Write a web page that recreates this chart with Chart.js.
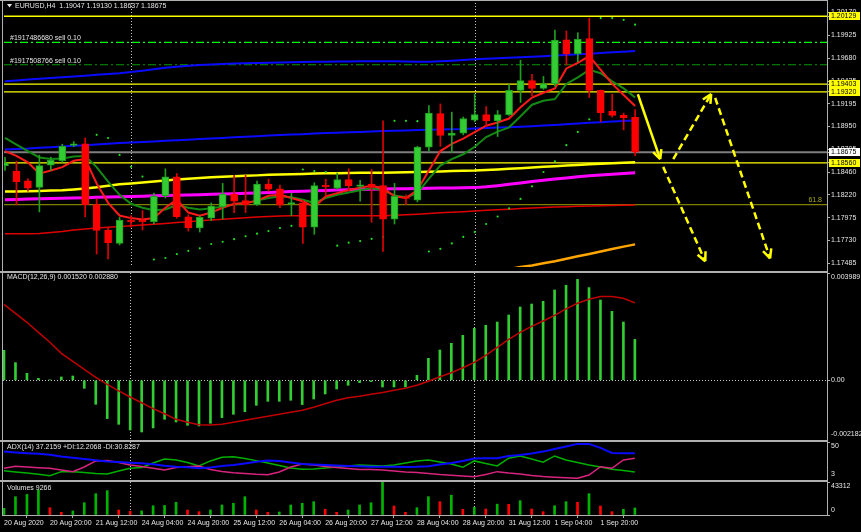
<!DOCTYPE html>
<html>
<head>
<meta charset="utf-8">
<script src="https://cdn.jsdelivr.net/npm/chart.js@4.4.0/dist/chart.umd.min.js"></script>
<style>
html, body { margin: 0; padding: 0; background: #000; }
#wrap { position: relative; width: 861px; height: 532px; background: #000; overflow: hidden; }
canvas { position: absolute; left: 0; }
.ln { position: absolute; background: #b0b0b0; }
</style>
</head>
<body>
<div id="wrap">
  <canvas id="main" width="861" height="271" style="top:0"></canvas>
  <canvas id="macd" width="861" height="166" style="top:273px"></canvas>
  <canvas id="adx" width="861" height="37" style="top:442px"></canvas>
  <canvas id="vol" width="861" height="50" style="top:482px"></canvas>
  <div class="ln" style="left:0;top:0;width:828px;height:1px"></div>
  <div class="ln" style="left:0;top:271px;width:828px;height:2px"></div>
  <div class="ln" style="left:0;top:440px;width:828px;height:2px"></div>
  <div class="ln" style="left:0;top:480px;width:828px;height:2px"></div>
  <div class="ln" style="left:2px;top:0;width:1px;height:516px"></div>
  <div class="ln" style="left:827px;top:0;width:1px;height:516px"></div>
</div>
<script>
// EURUSD H4, 20 Aug - 1 Sep 2020
const openP = [1.18530,1.18473,1.18369,1.18299,1.18536,1.18583,1.18747,1.18764,1.18115,1.17839,
  1.17699,1.17940,1.17940,1.17932,1.18209,1.18411,1.17984,1.17866,1.17970,1.18091,
  1.18227,1.18157,1.18115,1.18334,1.18282,1.18120,1.18133,1.17873,1.18320,1.18289,
  1.18383,1.18310,1.18334,1.18317,1.17959,1.18190,1.18161,1.18729,1.19087,1.18854,
  1.18879,1.19017,1.19076,1.19010,1.19076,1.19336,1.19440,1.19357,1.19405,1.19877,
  1.19727,1.19891,1.19336,1.19111,1.19069,1.19047];
const highP = [1.18620,1.18580,1.18393,1.18643,1.18622,1.18760,1.18788,1.18827,1.18175,1.17873,
  1.17977,1.17998,1.18050,1.18237,1.18497,1.18445,1.18005,1.17995,1.18133,1.18341,
  1.18427,1.18427,1.18365,1.18386,1.18323,1.18237,1.18157,1.18348,1.18386,1.18452,
  1.18497,1.18375,1.18490,1.19010,1.18341,1.18219,1.18739,1.19173,1.19191,1.19103,
  1.19051,1.19295,1.19163,1.19121,1.19399,1.19659,1.19509,1.19485,1.19981,1.19971,
  1.19953,1.20109,1.19340,1.19295,1.19093,1.19130];
const lowP = [1.18480,1.18112,1.18258,1.18036,1.18479,1.18567,1.18736,1.17984,1.17585,1.17533,
  1.17683,1.17873,1.17842,1.17907,1.18185,1.17970,1.17831,1.17821,1.17943,1.17959,
  1.18029,1.18029,1.18105,1.18255,1.18081,1.17995,1.17699,1.17797,1.18203,1.18279,
  1.18271,1.18151,1.17925,1.17613,1.17907,1.18115,1.18143,1.18687,1.18739,1.18671,
  1.18861,1.18999,1.18947,1.18843,1.19069,1.19207,1.19277,1.19347,1.19381,1.19607,
  1.19641,1.19259,1.18999,1.19051,1.18913,1.18637];
const closeP = [1.18560,1.18359,1.18289,1.18531,1.18588,1.18739,1.18764,1.18115,1.17839,1.17707,
  1.17949,1.17930,1.17930,1.18203,1.18411,1.17984,1.17866,1.17977,1.18099,1.18227,
  1.18151,1.18115,1.18334,1.18279,1.18109,1.18130,1.17873,1.18317,1.18305,1.18383,
  1.18317,1.18320,1.18299,1.17959,1.18203,1.18180,1.18729,1.19093,1.18854,1.18879,
  1.19035,1.19076,1.19010,1.19076,1.19336,1.19440,1.19357,1.19409,1.19873,1.19727,
  1.19883,1.19336,1.19097,1.19069,1.19045,1.18675];

const maFast = [1.18687,1.18635,1.18567,1.18445,1.18479,1.18515,1.18583,1.18601,1.18341,1.18133,
  1.17998,1.17970,1.17956,1.17970,1.18081,1.18167,1.18029,1.17995,1.18029,1.18081,
  1.18123,1.18130,1.18157,1.18209,1.18219,1.18185,1.18151,1.18088,1.18203,1.18237,
  1.18271,1.18296,1.18317,1.18289,1.18203,1.18185,1.18271,1.18479,1.18687,1.18764,
  1.18819,1.18889,1.18958,1.18993,1.19035,1.19155,1.19259,1.19311,1.19357,1.19571,
  1.19631,1.19703,1.19555,1.19405,1.19287,1.19170];
const maGreen = [1.18827,1.18757,1.18687,1.18619,1.18601,1.18608,1.18629,1.18635,1.18515,1.18359,
  1.18219,1.18123,1.18081,1.18053,1.18063,1.18109,1.18081,1.18063,1.18074,1.18095,
  1.18115,1.18133,1.18157,1.18185,1.18203,1.18192,1.18167,1.18133,1.18185,1.18219,
  1.18244,1.18268,1.18289,1.18268,1.18213,1.18192,1.18237,1.18393,1.18531,1.18601,
  1.18653,1.18733,1.18837,1.18895,1.18941,1.19059,1.19183,1.19225,1.19243,1.19405,
  1.19475,1.19555,1.19519,1.19433,1.19357,1.19259];
const maYellow = [1.18255,1.18255,1.18258,1.18261,1.18265,1.18268,1.18276,1.18286,1.18299,1.18315,
  1.18331,1.18341,1.18351,1.18362,1.18372,1.18383,1.18390,1.18398,1.18406,1.18411,
  1.18417,1.18422,1.18427,1.18433,1.18437,1.18440,1.18443,1.18446,1.18449,1.18451,
  1.18453,1.18455,1.18455,1.18455,1.18457,1.18461,1.18463,1.18466,1.18469,1.18473,
  1.18476,1.18479,1.18485,1.18491,1.18497,1.18504,1.18512,1.18518,1.18525,1.18532,
  1.18539,1.18545,1.18551,1.18557,1.18562,1.18567];
const maMagenta = [1.18167,1.18170,1.18174,1.18177,1.18180,1.18183,1.18186,1.18189,1.18192,1.18195,
  1.18199,1.18202,1.18205,1.18208,1.18211,1.18214,1.18217,1.18221,1.18226,1.18229,
  1.18231,1.18235,1.18239,1.18243,1.18248,1.18254,1.18258,1.18262,1.18266,1.18270,
  1.18273,1.18277,1.18279,1.18281,1.18283,1.18285,1.18287,1.18289,1.18291,1.18292,
  1.18294,1.18296,1.18305,1.18317,1.18331,1.18346,1.18362,1.18375,1.18388,1.18400,
  1.18412,1.18422,1.18431,1.18440,1.18448,1.18455];
const maRed = [1.17803,1.17803,1.17803,1.17805,1.17816,1.17826,1.17842,1.17854,1.17865,1.17873,
  1.17880,1.17888,1.17896,1.17904,1.17913,1.17922,1.17931,1.17941,1.17950,1.17958,
  1.17967,1.17974,1.17981,1.17987,1.17993,1.17996,1.17996,1.17996,1.17996,1.17996,
  1.17996,1.17996,1.17995,1.17995,1.18000,1.18005,1.18012,1.18019,1.18026,1.18033,
  1.18039,1.18047,1.18054,1.18060,1.18066,1.18073,1.18078,1.18083,1.18088,1.18092,
  1.18097,1.18100,1.18103,1.18105,1.18107,1.18109];
const bandMid = [1.18705,1.18710,1.18715,1.18723,1.18729,1.18736,1.18743,1.18750,1.18757,1.18764,
  1.18772,1.18778,1.18784,1.18790,1.18797,1.18803,1.18809,1.18815,1.18822,1.18828,
  1.18834,1.18840,1.18846,1.18853,1.18858,1.18863,1.18868,1.18874,1.18879,1.18884,
  1.18888,1.18892,1.18896,1.18901,1.18905,1.18908,1.18911,1.18914,1.18917,1.18920,
  1.18923,1.18929,1.18934,1.18938,1.18942,1.18947,1.18953,1.18960,1.18967,1.18975,
  1.18983,1.18990,1.18996,1.19002,1.19009,1.19015];
const bandUp = [1.19433,1.19443,1.19452,1.19460,1.19468,1.19477,1.19485,1.19493,1.19502,1.19510,
  1.19520,1.19533,1.19547,1.19562,1.19577,1.19589,1.19599,1.19608,1.19614,1.19619,
  1.19623,1.19626,1.19630,1.19632,1.19635,1.19637,1.19639,1.19641,1.19643,1.19645,
  1.19646,1.19647,1.19648,1.19648,1.19647,1.19645,1.19643,1.19643,1.19647,1.19653,
  1.19661,1.19668,1.19674,1.19680,1.19685,1.19690,1.19695,1.19701,1.19708,1.19715,
  1.19722,1.19729,1.19737,1.19744,1.19750,1.19756];
const maOrange = [null,null,null,null,null,null,null,null,null,null,
  null,null,null,null,null,null,null,null,null,null,
  null,null,null,null,null,null,null,null,null,null,
  null,null,null,null,null,null,null,null,null,null,
  null,null,null,null,1.17425,1.17447,1.17464,1.17488,1.17509,1.17535,
  1.17561,1.17587,1.17613,1.17639,1.17665,1.17689];
const sar = [null,null,null,null,null,null,null,null,1.18861,1.18827,
  1.18646,1.18518,1.18414,1.17527,1.17543,1.17585,1.17620,1.17647,1.17693,1.17717,
  1.17745,1.17776,1.17803,1.17831,1.17863,1.17887,1.18490,1.18473,1.18463,1.17675,
  1.17707,1.17724,1.17748,1.17769,1.19010,1.19010,1.19007,1.17613,1.17641,1.17699,
  1.17769,1.17821,1.17907,1.17987,1.18074,1.18175,1.18310,1.18463,1.18577,1.18750,
  1.18892,1.19027,1.20109,1.20109,1.20091,1.20039];

const macdHist = [0.001115,0.000658,0.000260,0.000074,0.000020,0.000124,0.000160,-0.000297,-0.000892,-0.001424,
  -0.001636,-0.001847,-0.001921,-0.001772,-0.001450,-0.001550,-0.001673,-0.001698,-0.001599,-0.001388,
  -0.001264,-0.001165,-0.000929,-0.000781,-0.000781,-0.000743,-0.000904,-0.000694,-0.000508,-0.000322,
  -0.000186,-0.000087,-0.000050,-0.000248,-0.000248,-0.000248,0.000186,0.000818,0.001126,0.001375,
  0.001673,0.001933,0.002045,0.002167,0.002428,0.002725,0.002836,0.002937,0.003357,0.003532,
  0.003755,0.003446,0.002985,0.002565,0.002167,0.001520];
const macdSignal = [0.002825,0.002491,0.002156,0.001784,0.001413,0.001004,0.000706,0.000409,0.000112,-0.000149,
  -0.000390,-0.000621,-0.000836,-0.001052,-0.001245,-0.001450,-0.001561,-0.001654,-0.001662,-0.001636,
  -0.001561,-0.001487,-0.001413,-0.001338,-0.001264,-0.001190,-0.001115,-0.001004,-0.000874,-0.000743,
  -0.000651,-0.000595,-0.000520,-0.000457,-0.000372,-0.000297,-0.000186,-0.000037,0.000130,0.000279,
  0.000465,0.000669,0.000929,0.001227,0.001524,0.001784,0.002007,0.002204,0.002416,0.002658,
  0.002862,0.003011,0.003112,0.003112,0.003048,0.002880];

const adxLine = [39.5,38.4,37.4,36.7,35.4,33.1,31.3,29.7,28.0,26.4,
  25.5,24.8,24.0,22.8,20.8,19.4,18.6,17.4,18.4,20.4,
  21.7,23.7,26.0,27.5,27.1,25.1,23.1,22.4,21.7,21.0,
  20.4,20.0,19.4,19.4,19.3,19.0,19.3,20.1,22.4,24.4,
  27.1,30.4,30.7,30.7,33.7,35.1,37.1,39.5,43.1,46.4,
  49.8,49.8,44.4,37.8,37.4,37.2];
const plusDI = [14.1,12.4,11.0,9.3,7.4,12.8,12.8,11.7,10.4,9.7,
  13.7,17.3,18.4,24.4,29.7,28.4,25.1,20.4,27.1,32.0,
  32.8,30.4,27.5,24.4,21.0,17.7,16.0,16.4,17.7,19.0,
  20.4,21.7,21.0,20.4,21.7,24.4,27.1,28.4,25.7,23.0,
  18.6,27.1,23.7,20.4,30.7,33.7,29.7,25.3,33.7,28.4,
  25.1,21.7,19.0,16.0,14.4,12.2];
const minusDI = [17.3,20.0,19.0,18.0,17.3,15.0,12.8,19.0,27.1,27.7,
  25.1,21.7,19.7,17.3,15.0,18.4,19.4,20.4,15.7,13.0,
  11.4,10.4,9.3,8.7,12.4,19.0,23.1,21.7,19.7,18.4,
  17.0,15.7,15.7,15.0,13.7,12.4,11.7,10.4,9.0,8.0,
  7.0,6.1,9.0,12.8,11.0,9.7,7.7,6.3,5.3,4.6,
  3.9,8.3,19.4,17.3,28.4,30.8];

const volumes = [8800,24000,27000,33000,9580,3540,5250,16100,28000,32000,
  6560,5000,5400,12200,12500,16700,6560,4330,6560,13100,
  15400,24000,6560,3540,3940,13100,15400,17500,7480,3540,
  6560,13100,16100,43312,11800,3540,9580,24000,17500,26000,
  7480,10100,7875,14200,14000,18800,7875,4330,12200,17500,
  16700,28000,11800,4330,7480,9266];

const timeIdx = [0,4,8,12,16,20,24,28,32,36,40,44,48,52];
const timeLabels = ['20 Aug 2020','20 Aug 20:00','21 Aug 12:00','24 Aug 04:00','24 Aug 20:00','25 Aug 12:00',
  '26 Aug 04:00','26 Aug 20:00','27 Aug 12:00','28 Aug 04:00','28 Aug 20:00','31 Aug 12:00','1 Sep 04:00','1 Sep 20:00'];
const priceTicks = [1.20170,1.19925,1.19680,1.19435,1.19195,1.18950,1.18705,1.18460,1.18220,1.17975,1.17730,1.17485];

const yellowLevels = [1.20129, 1.19403, 1.19320, 1.18560];
const bidLevel = 1.18675;
const fibLevel = 1.18115;
const orderLevels = [1.19849, 1.19610];
const orderNames = ['#1917486680 sell 0.10', '#1917508766 sell 0.10'];
const separators = [11, 41];
// hand drawn arrows: [bar, price] -> [bar, price]
const arrowLines = [
  {from: [55.24, 1.19295], to: [57.19, 1.18601], dash: false},
  {from: [58.33, 1.18601], to: [61.64, 1.19298], dash: true},
  {from: [61.99, 1.19256], to: [66.78, 1.17540], dash: true},
  {from: [57.45, 1.18518], to: [61.12, 1.17509], dash: true}
];

const X_MIN = -0.087, X_MAX = 71.75;
const FAM = '"Liberation Sans", Arial, sans-serif';
const FONT = '7px ' + FAM;
const TXT = '#e6e6e6';
const AXIS = '#b0b0b0';

const pts = arr => arr.map((v, i) => ({x: i, y: v})).filter(p => p.y !== null);
const isUp = i => closeP[i] >= openP[i];

function line(data, color, width, order) {
  return {type: 'line', data: pts(data), borderColor: color, borderWidth: width, pointRadius: 0,
    tension: 0, fill: false, order: order || 5};
}
function level(v, color, width, dash) {
  return {type: 'line', data: [{x: X_MIN, y: v}, {x: X_MAX, y: v}], borderColor: color,
    borderWidth: width, borderDash: dash || [], pointRadius: 0, order: 9};
}

function yAxis(min, max, ticks) {
  return {
    position: 'right', min: min, max: max,
    afterBuildTicks: s => { s.ticks = ticks.map(v => ({value: v})); },
    afterFit: s => { s.width = 34; s.paddingTop = 0; s.paddingBottom = 0; },
    ticks: {display: false},
    grid: {drawOnChartArea: false, drawTicks: true, tickLength: 3, color: AXIS},
    border: {display: true, color: AXIS}
  };
}
function xAxis(show) {
  const ax = {type: 'linear', min: X_MIN, max: X_MAX, offset: false, display: show};
  if (show) {
    Object.assign(ax, {
      afterBuildTicks: s => { s.ticks = timeIdx.map(v => ({value: v})); },
      afterFit: s => { s.height = 17; s.paddingLeft = 0; s.paddingRight = 0; },
      ticks: {autoSkip: false, maxRotation: 0, minRotation: 0, align: 'start', padding: 1,
        color: TXT, font: {size: 7, family: FAM}, callback: (v, i) => timeLabels[i]},
      grid: {drawOnChartArea: false, drawTicks: true, tickLength: 3, color: AXIS},
      border: {display: true, color: AXIS}
    });
  }
  return ax;
}

// texts, axis labels, price tags, separators, arrow heads
function decor(cfg) {
  return {
    id: 'decor',
    beforeDatasetsDraw(chart) {
      const {ctx, chartArea: a, scales: {x, y}} = chart;
      ctx.save();
      ctx.strokeStyle = '#c8c8c8';
      ctx.lineWidth = 1;
      ctx.setLineDash([1, 2]);
      separators.forEach(v => {
        const px = Math.round(x.getPixelForValue(v)) + 0.5;
        ctx.beginPath(); ctx.moveTo(px, 0); ctx.lineTo(px, a.bottom); ctx.stroke();
      });
      if (cfg.zero) {
        const py = Math.round(y.getPixelForValue(0)) + 0.5;
        ctx.beginPath(); ctx.moveTo(a.left, py); ctx.lineTo(a.right, py); ctx.stroke();
      }
      ctx.restore();
    },
    afterDraw(chart) {
      const {ctx, chartArea: a, scales: {x, y}} = chart;
      ctx.save();
      ctx.font = FONT;
      ctx.textAlign = 'left';
      (cfg.axisLabels || []).forEach(l => {
        let py = y.getPixelForValue(l.v);
        ctx.textBaseline = 'middle';
        if (l.edge === 'top') { ctx.textBaseline = 'top'; py = a.top + 1; }
        if (l.edge === 'bottom') { ctx.textBaseline = 'bottom'; py = a.bottom - 1; }
        ctx.fillStyle = TXT;
        ctx.fillText(l.t, a.right + 4, py);
      });
      (cfg.boxes || []).forEach(b => {
        const py = Math.round(y.getPixelForValue(b.v));
        ctx.fillStyle = b.c;
        ctx.fillRect(a.right + 2, py - 4, 31, 8);
        ctx.fillStyle = '#000';
        ctx.textBaseline = 'middle';
        ctx.fillText(b.v.toFixed(5), a.right + 4, py + 0.5);
      });
      ctx.textBaseline = 'middle';
      (cfg.texts || []).forEach(t => {
        ctx.fillStyle = t.c || TXT;
        ctx.textAlign = t.align || 'left';
        const py = t.v !== undefined ? y.getPixelForValue(t.v) + t.dy : t.y;
        ctx.fillText(t.t, t.x, py);
      });
      if (cfg.triangle) {
        ctx.fillStyle = TXT;
        ctx.beginPath(); ctx.moveTo(7, 4); ctx.lineTo(12, 4); ctx.lineTo(9.5, 7.5); ctx.closePath(); ctx.fill();
      }
      (cfg.arrows || []).forEach(ar => {
        const x0 = x.getPixelForValue(ar.from[0]), y0 = y.getPixelForValue(ar.from[1]);
        const x1 = x.getPixelForValue(ar.to[0]), y1 = y.getPixelForValue(ar.to[1]);
        const ang = Math.atan2(y1 - y0, x1 - x0);
        ctx.strokeStyle = '#ffff00';
        ctx.lineWidth = 2.5;
        ctx.setLineDash([]);
        [0.45, -0.45].forEach(d => {
          ctx.beginPath();
          ctx.moveTo(x1, y1);
          ctx.lineTo(x1 - 10 * Math.cos(ang + d), y1 - 10 * Math.sin(ang + d));
          ctx.stroke();
        });
      });
      ctx.restore();
    }
  };
}

const common = {
  responsive: false, animation: false, devicePixelRatio: 1,
  layout: {padding: {left: 3, right: 0, top: 0, bottom: 0}},
  plugins: {legend: {display: false}, tooltip: {enabled: false}}
};

const idx = openP.map((_, i) => i);

// main price window
new Chart(document.getElementById('main'), {
  type: 'bar',
  data: {
    datasets: [
      {data: idx.map(i => ({x: i, y: [openP[i], closeP[i]]})), grouped: false, barThickness: 7,
        minBarLength: 1.5, borderSkipped: false, borderWidth: 1,
        backgroundColor: c => isUp(c.dataIndex) ? '#33cc33' : '#ff0000',
        borderColor: c => isUp(c.dataIndex) ? '#1f9f1f' : '#ff0000', order: 1},
      {data: idx.map(i => ({x: i, y: [lowP[i], highP[i]]})), grouped: false, barThickness: 1,
        borderWidth: 0, backgroundColor: c => isUp(c.dataIndex) ? '#1f9f1f' : '#dd0000', order: 2},
      {type: 'line', data: pts(sar), showLine: false, pointRadius: 1.1, pointBorderWidth: 0,
        pointBackgroundColor: '#22dd22', order: 3},
      line(maFast, '#ff1a1a', 2, 4),
      line(maGreen, '#138a13', 2, 4.5),
      line(maYellow, '#ffff00', 2.5, 6),
      line(maMagenta, '#ff00ff', 3, 6),
      line(maRed, '#e00000', 1.5, 6),
      line(bandMid, '#0a0aff', 2, 6),
      line(bandUp, '#0a0aff', 2, 6),
      line(maOrange, '#ffa500', 2.5, 6),
      ...yellowLevels.map(v => level(v, '#ffff00', 1.3)),
      level(bidLevel, '#7f7f7f', 2),
      level(fibLevel, '#808000', 1.2),
      level(orderLevels[0], '#00ff00', 1.2, [8, 3, 2, 3]),
      level(orderLevels[1], '#009900', 1.2, [8, 3, 2, 3]),
      ...arrowLines.map(ar => ({type: 'line', data: [{x: ar.from[0], y: ar.from[1]}, {x: ar.to[0], y: ar.to[1]}],
        borderColor: '#ffff00', borderWidth: 2.5, borderDash: ar.dash ? [7, 4] : [], pointRadius: 0,
        order: 0, clip: false}))
    ]
  },
  options: Object.assign({}, common, {
    scales: {x: xAxis(false), y: yAxis(1.17447, 1.20260, priceTicks.concat(yellowLevels, [bidLevel]))}
  }),
  plugins: [decor({
    triangle: true,
    axisLabels: priceTicks.map(v => ({v: v, t: v.toFixed(5)})),
    boxes: [{v: 1.20129, c: '#ffff00'}, {v: 1.19403, c: '#ffff00'}, {v: 1.19320, c: '#ffff00'},
      {v: bidLevel, c: '#ffffff'}, {v: 1.18560, c: '#ffff00'}],
    texts: [
      {t: 'EURUSD,H4  1.19047 1.19130 1.18637 1.18675', x: 15, y: 6},
      {t: orderNames[0], x: 10, v: orderLevels[0], dy: -4},
      {t: orderNames[1], x: 10, v: orderLevels[1], dy: -4},
      {t: '61.8', x: 822, v: fibLevel, dy: -4, c: '#a8a820', align: 'right'}
    ],
    arrows: arrowLines
  })]
});

// MACD window
new Chart(document.getElementById('macd'), {
  type: 'bar',
  data: {
    datasets: [
      {data: pts(macdHist), grouped: false, barThickness: 2, backgroundColor: '#32cd32', borderWidth: 0, order: 2},
      line(macdSignal, '#c00000', 1.5, 1)
    ]
  },
  options: Object.assign({}, common, {
    scales: {x: xAxis(false), y: yAxis(-0.002182, 0.003989, [0.003989, 0, -0.002182])}
  }),
  plugins: [decor({
    zero: true,
    axisLabels: [{v: 0.003989, t: '0.003989', edge: 'top'}, {v: 0, t: '0.00'}, {v: -0.002182, t: '-0.002182', edge: 'bottom'}],
    texts: [{t: 'MACD(12,26,9) 0.001520 0.002880', x: 7, y: 4.5}]
  })]
});

// ADX window
new Chart(document.getElementById('adx'), {
  type: 'line',
  data: {
    datasets: [
      line(plusDI, '#00b000', 1.5, 3),
      line(minusDI, '#d8247e', 1.5, 2),
      line(adxLine, '#0a0aff', 2, 1)
    ]
  },
  options: Object.assign({}, common, {
    scales: {x: xAxis(false), y: yAxis(3, 52.3, [52.3, 3])}
  }),
  plugins: [decor({
    axisLabels: [{v: 50, t: '50', edge: 'top'}, {v: 3, t: '3', edge: 'bottom'}],
    texts: [{t: 'ADX(14) 37.2159 +DI:12.2068 -DI:30.8287', x: 7, y: 5.5}]
  })]
});

// Volumes window
new Chart(document.getElementById('vol'), {
  type: 'bar',
  data: {
    datasets: [
      {data: pts(volumes), grouped: false, barThickness: 2, borderWidth: 0,
        backgroundColor: c => (c.dataIndex === 0 || volumes[c.dataIndex] > volumes[c.dataIndex - 1]) ? '#00b400' : '#ff0000'}
    ]
  },
  options: Object.assign({}, common, {
    scales: {x: xAxis(true), y: yAxis(0, 43312, [43312, 0])}
  }),
  plugins: [decor({
    axisLabels: [{v: 43312, t: '43312', edge: 'top'}, {v: 0, t: '0', edge: 'bottom'}],
    texts: [{t: 'Volumes 9266', x: 7, y: 6.5}]
  })]
});
</script>
</body>
</html>
